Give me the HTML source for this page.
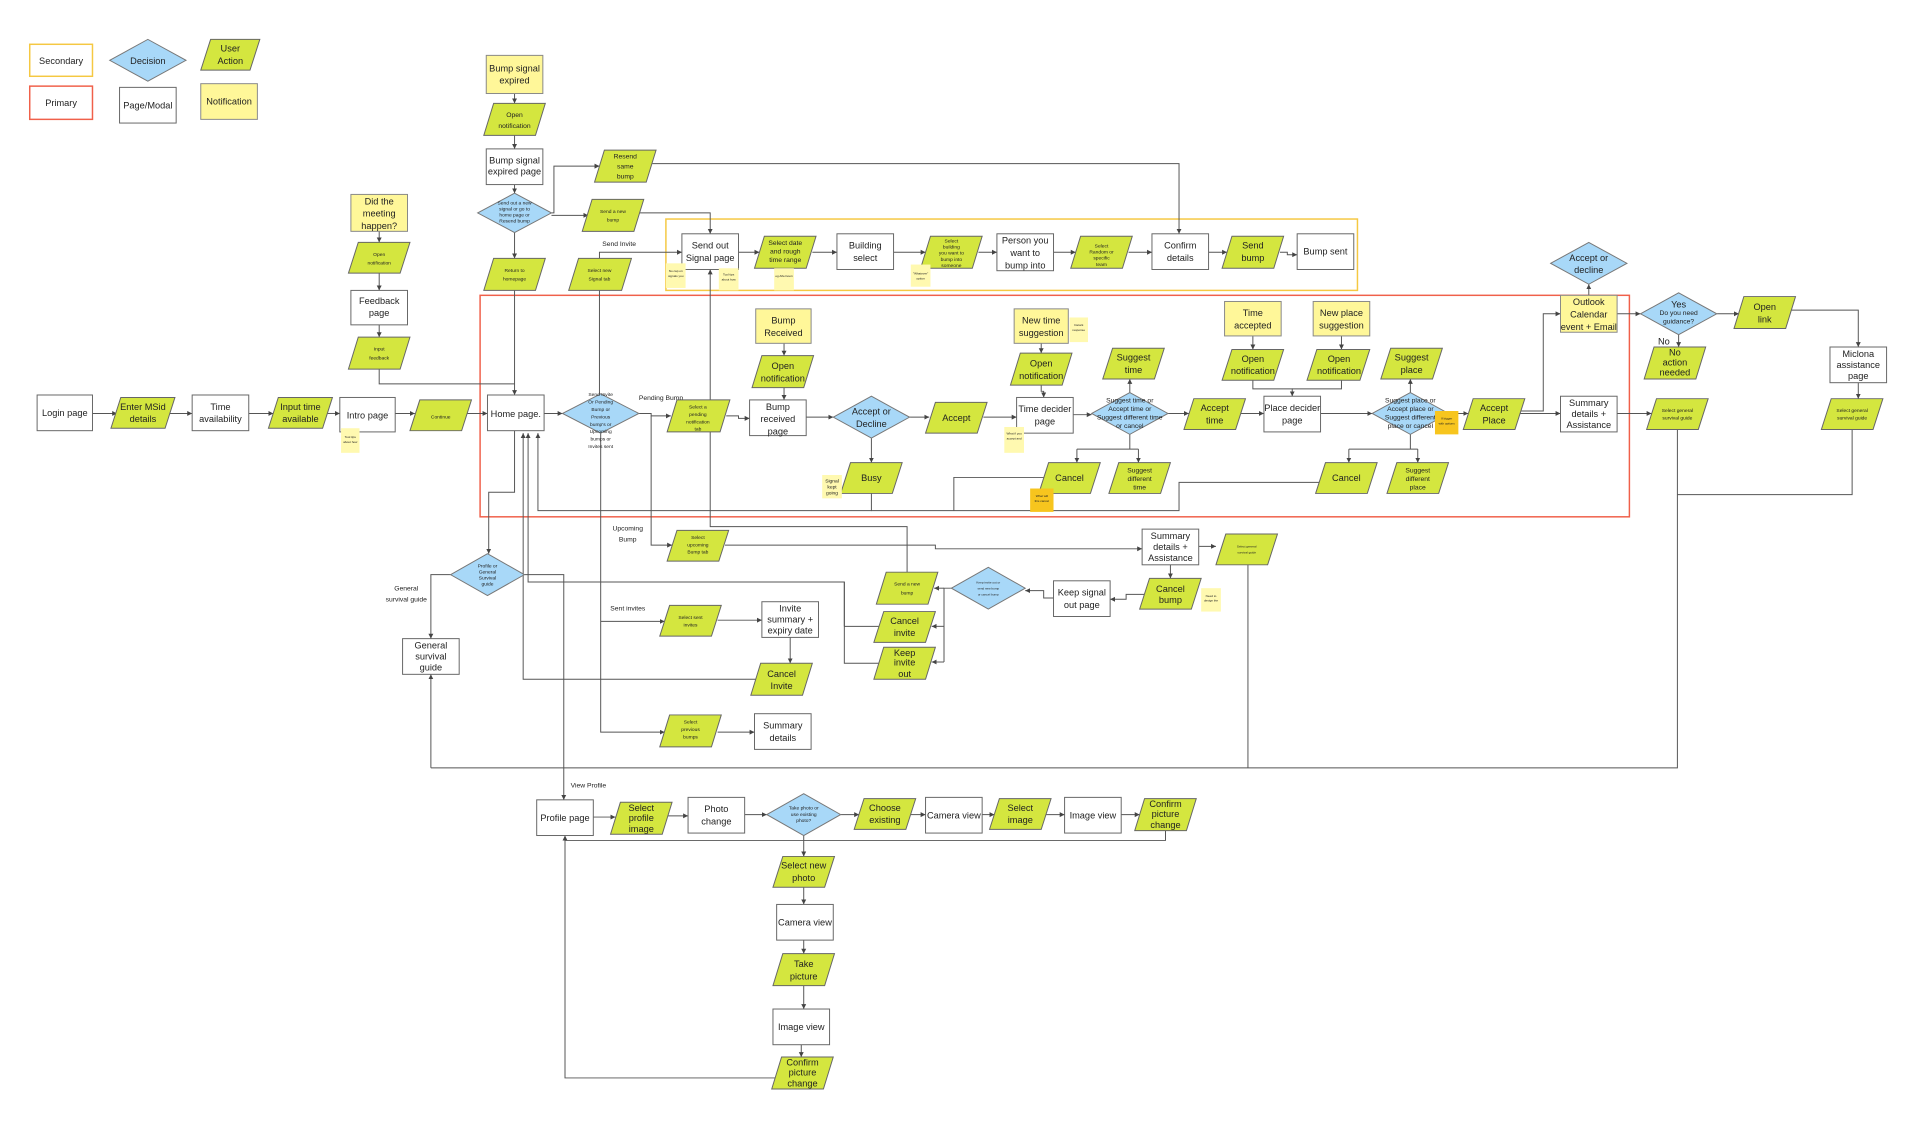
<!DOCTYPE html>
<html><head><meta charset="utf-8"><style>
html,body{margin:0;padding:0;background:#fff}
svg{display:block}
text{font-family:"Liberation Sans",sans-serif;fill:#222;text-anchor:middle}
.r{fill:#fff;stroke:#666;stroke-width:0.8}
.n{fill:#fff799;stroke:#888;stroke-width:0.8}
.p{fill:#d4e63f;stroke:#666;stroke-width:0.8}
.d{fill:#a8d8f8;stroke:#777;stroke-width:0.8}
.s{fill:#fff9b0;stroke:none}
.o{fill:#f7c51e;stroke:none}
.l{fill:none;stroke:#555;stroke-width:0.8}
.la{fill:none;stroke:#555;stroke-width:0.8;marker-end:url(#a)}
.t8{font-size:7.5px}.t6{font-size:5.5px}.t4{font-size:4px}.t3{font-size:2.5px}
</style></head><body>
<svg width="1920" height="1137" viewBox="0 0 1560 924" xmlns="http://www.w3.org/2000/svg">
<defs><marker id="a" markerWidth="5" markerHeight="5" refX="4" refY="2.5" orient="auto" markerUnits="userSpaceOnUse"><path d="M0,0.5 L4,2.5 L0,4.5z" fill="#444"/></marker></defs>

<!-- Legend -->
<rect x="24" y="36" width="51" height="26" fill="#fff" stroke="#f5c842" stroke-width="1.2"/><text x="49.5" y="52" class="t8">Secondary</text>
<polygon class="d" points="89,49 120,32 151,49 120,66"/><text x="120" y="52" class="t8">Decision</text>
<polygon class="p" points="171,32 211,32 203,57 163,57"/><text x="187" y="42" class="t8">User</text><text x="187" y="52" class="t8">Action</text>
<rect x="24" y="70" width="51" height="27" fill="#fff" stroke="#f0604a" stroke-width="1.2"/><text x="49.5" y="86" class="t8">Primary</text>
<rect class="r" x="97" y="71" width="46" height="29"/><text x="120" y="88" class="t8">Page/Modal</text>
<rect class="n" x="163" y="68" width="46" height="29"/><text x="186" y="85" class="t8">Notification</text>

<!-- group boxes -->
<rect x="541" y="178" width="562" height="58" fill="none" stroke="#f5c842" stroke-width="1.2"/>
<rect x="390" y="240" width="934" height="180" fill="none" stroke="#f0604a" stroke-width="1.2"/>

<!-- connectors -->
<path class="la" d="M75,336 H95"/><path class="la" d="M138,336 H156"/><path class="la" d="M202,336 H222"/><path class="la" d="M266,336 H276"/><path class="la" d="M321,336 H337"/><path class="la" d="M379,336 H396"/><path class="la" d="M442,336 H457"/>
<path class="la" d="M519,336 H529 V338 H545"/><path class="la" d="M590,338 H600 V340 H609"/><path class="la" d="M655,339 H677"/><path class="la" d="M739,339 H755"/><path class="la" d="M799,339 H826"/><path class="la" d="M872,337 H887"/><path class="la" d="M949,336 H966"/><path class="la" d="M1008,336 H1027"/><path class="la" d="M1073,336 H1115"/><path class="la" d="M1177,336 H1193"/><path class="la" d="M1235,336 H1268"/><path class="la" d="M1314,336 H1342"/>
<path class="la" d="M1236,334 H1254 V255 H1268"/><path class="la" d="M1291,240 V231"/><path class="la" d="M1314,255 H1333"/><path class="la" d="M1395,255 H1413"/><path class="la" d="M1455,252 H1510 V282"/><path class="la" d="M1510,311 V324"/><path class="la" d="M1364,272 V282"/>
<path class="l" d="M1505,349 V402 H1363"/><path class="l" d="M1363,349 V624 H350"/><path class="la" d="M350,624 V548"/><path class="l" d="M1014,459 V624"/>
<path class="la" d="M418,76 V84"/><path class="la" d="M418,110 V121"/><path class="la" d="M418,150 V157"/><path class="la" d="M418,189 V210"/><path class="la" d="M418,236 V321"/>
<path class="la" d="M448,173 H450 V135 H487"/><path class="la" d="M448,175 H478"/><path class="la" d="M530,133 H958 V190"/><path class="la" d="M520,173 H577 V190"/>
<path class="la" d="M487,210 V205 H554"/><path class="l" d="M487,236 V320"/><path class="la" d="M488,352 V595 H540"/><path class="la" d="M488,505 H540"/><path class="la" d="M583,504 H619"/><path class="la" d="M583,595 H613"/><path class="la" d="M642,518 V539"/>
<path class="la" d="M600,205 H617"/><path class="la" d="M660,205 H680"/><path class="la" d="M726,205 H752"/><path class="la" d="M795,205 H810"/><path class="la" d="M856,205 H874"/><path class="la" d="M917,205 H936"/><path class="la" d="M982,205 H997"/><path class="la" d="M1040,205 H1046 V207 H1054"/>
<path class="la" d="M308,188 V197"/><path class="la" d="M308,222 V236"/><path class="la" d="M308,264 V274"/><path class="l" d="M308,300 V312 H418"/>
<path class="la" d="M418,350 V400 H397 V450"/><path class="la" d="M366,467 H350 V519"/><path class="la" d="M426,467 H458 V650"/>
<path class="la" d="M708,401 V415 H437 V352"/><path class="l" d="M708,415 H958 V392 H1073"/><path class="l" d="M775,415 V388 H850"/>
<path class="la" d="M737,465 V428 H577 V219"/><path class="la" d="M686,509 V473 H429 V352"/><path class="l" d="M686,509 H714 M686,473 V539 H714"/><path class="la" d="M614,552 H425 V352"/>
<path class="la" d="M529,338 V443 H546"/><path class="la" d="M589,443 H760 V446 H928"/><path class="la" d="M974,444 H988"/>
<path class="la" d="M951,459 V470"/><path class="la" d="M930,483 H915 V487 H902"/><path class="la" d="M856,486 H848 V480 H833"/><path class="l" d="M773,478 H767 V538"/><path class="la" d="M767,478 H759"/><path class="la" d="M767,509 H757"/><path class="la" d="M767,538 H757"/>
<path class="la" d="M708,356 V376"/><path class="la" d="M918,319 V308"/><path class="l" d="M918,353 V365 H875 M918,365 H925"/><path class="la" d="M875,365 V376"/><path class="la" d="M925,365 V376"/>
<path class="la" d="M1146,319 V308"/><path class="l" d="M1146,353 V365 H1096 M1146,365 H1152"/><path class="la" d="M1096,365 V376"/><path class="la" d="M1152,365 V376"/>
<path class="la" d="M846,279 V287"/><path class="la" d="M846,313 V318 H848 V323"/><path class="la" d="M1018,273 V284"/><path class="la" d="M1018,309 V316 H1050 V322"/><path class="l" d="M1090,309 V316 H1050"/><path class="la" d="M1090,273 V284"/><path class="la" d="M637,279 V289"/><path class="la" d="M637,315 V325"/>
<path class="la" d="M482,664 H500"/><path class="la" d="M542,663 H559"/><path class="la" d="M605,662 H623"/><path class="la" d="M683,662 H698"/><path class="la" d="M740,662 H752"/><path class="la" d="M798,662 H808"/><path class="la" d="M850,662 H865"/><path class="la" d="M911,662 H926"/><path class="la" d="M947,675 V683 H459 V679"/>
<path class="la" d="M653,679 V696"/><path class="la" d="M653,721 V735"/><path class="la" d="M653,764 V775"/><path class="la" d="M653,801 V820"/><path class="la" d="M651,849 V859"/><path class="l" d="M631,876 H459 V683"/>

<!-- nodes top column -->
<rect class="n" x="395" y="45" width="46" height="31"/><text x="418" y="58" class="t8">Bump signal</text><text x="418" y="68" class="t8">expired</text>
<polygon class="p" points="401,84 443,84 435,110 393,110"/><text x="418" y="95" class="t6">Open</text><text x="418" y="104" class="t6">notification</text>
<rect class="r" x="395" y="121" width="46" height="29"/><text x="418" y="133" class="t8">Bump signal</text><text x="418" y="142" class="t8">expired page</text>
<polygon class="d" points="388,173 418,157 448,173 418,189"/><text class="t4"><tspan x="418" y="166">Send out a new</tspan><tspan x="418" y="171">signal or go to</tspan><tspan x="418" y="176">home page or</tspan><tspan x="418" y="181">Resend bump</tspan></text>
<polygon class="p" points="401,210 443,210 435,236 393,236"/><text x="418" y="221" class="t4">Return to</text><text x="418" y="228" class="t4">homepage</text>
<polygon class="p" points="491,122 533,122 525,148 483,148"/><text class="t6"><tspan x="508" y="129">Resend</tspan><tspan x="508" y="137">same</tspan><tspan x="508" y="145">bump</tspan></text>
<polygon class="p" points="481,162 523,162 515,188 473,188"/><text x="498" y="173" class="t4">Send a new</text><text x="498" y="180" class="t4">bump</text>
<polygon class="p" points="470,210 513,210 505,236 462,236"/><text x="487" y="221" class="t4">Select new</text><text x="487" y="228" class="t4">Signal tab</text>
<text x="503" y="200" class="t6">Send Invite</text>

<!-- feedback -->
<rect class="n" x="285" y="158" width="46" height="30"/><text class="t8"><tspan x="308" y="166">Did the</tspan><tspan x="308" y="176">meeting</tspan><tspan x="308" y="186">happen?</tspan></text>
<polygon class="p" points="291,197 333,197 325,222 283,222"/><text x="308" y="208" class="t4">Open</text><text x="308" y="215" class="t4">notification</text>
<rect class="r" x="285" y="236" width="46" height="28"/><text x="308" y="247" class="t8">Feedback</text><text x="308" y="257" class="t8">page</text>
<polygon class="p" points="291,274 333,274 325,300 283,300"/><text x="308" y="285" class="t4">Input</text><text x="308" y="292" class="t4">feedback</text>

<!-- main row -->
<rect class="r" x="30" y="321" width="45" height="29"/><text x="52.5" y="338" class="t8">Login page</text>
<polygon class="p" points="98,323 142,323 134,348 90,348"/><text x="116" y="333" class="t8">Enter MSid</text><text x="116" y="343" class="t8">details</text>
<rect class="r" x="156" y="321" width="46" height="29"/><text x="179" y="333" class="t8">Time</text><text x="179" y="343" class="t8">availability</text>
<polygon class="p" points="226,323 270,323 262,348 218,348"/><text x="244" y="333" class="t8">Input time</text><text x="244" y="343" class="t8">available</text>
<rect class="r" x="276" y="323" width="45" height="28"/><text x="298.5" y="340" class="t8">Intro page</text>
<rect class="s" x="277" y="348" width="15" height="20"/><text x="284.5" y="356" class="t3">Tool tips</text><text x="284.5" y="360" class="t3">about how</text>
<polygon class="p" points="341,325 383,325 375,350 333,350"/><text x="358" y="340" class="t4">Continue</text>
<rect class="r" x="396" y="321" width="46" height="29"/><text x="419" y="339" class="t8">Home page.</text>
<polygon class="d" points="457,336 488,320 519,336 488,352"/><text class="t4"><tspan x="488" y="322">Send Invite</tspan><tspan x="488" y="328">Or Pending</tspan><tspan x="488" y="334">Bump or</tspan><tspan x="488" y="340">Previous</tspan><tspan x="488" y="346">bump's or</tspan><tspan x="488" y="352">Upcoming</tspan><tspan x="488" y="358">bumps or</tspan><tspan x="488" y="364">Invites sent</tspan></text>
<text x="537" y="325" class="t6">Pending Bump</text>
<polygon class="p" points="550,325 593,325 585,351 542,351"/><text class="t4"><tspan x="567" y="332">Select a</tspan><tspan x="567" y="338">pending</tspan><tspan x="567" y="344">notification</tspan><tspan x="567" y="350">tab</tspan></text>
<rect class="r" x="609" y="325" width="46" height="29"/><text class="t8"><tspan x="632" y="333">Bump</tspan><tspan x="632" y="343">received</tspan><tspan x="632" y="353">page</tspan></text>
<rect class="n" x="614" y="251" width="45" height="28"/><text x="636.5" y="263" class="t8">Bump</text><text x="636.5" y="273" class="t8">Received</text>
<polygon class="p" points="619,289 661,289 653,315 611,315"/><text x="636" y="300" class="t8">Open</text><text x="636" y="310" class="t8">notification</text>
<polygon class="d" points="677,339 708,322 739,339 708,356"/><text x="708" y="337" class="t8">Accept or</text><text x="708" y="347" class="t8">Decline</text>
<polygon class="p" points="760,327 802,327 794,352 752,352"/><text x="777" y="342" class="t8">Accept</text>
<polygon class="p" points="691,376 733,376 725,401 683,401"/><text x="708" y="391" class="t8">Busy</text>
<rect class="s" x="668" y="386" width="16" height="19"/><text class="t4"><tspan x="676" y="392">Signal</tspan><tspan x="676" y="397">kept</tspan><tspan x="676" y="402">going</tspan></text>
<rect class="r" x="826" y="323" width="46" height="29"/><text x="849" y="335" class="t8">Time decider</text><text x="849" y="345" class="t8">page</text>
<rect class="s" x="816" y="347" width="16" height="21"/><text x="824" y="353" class="t3">What if you</text><text x="824" y="357" class="t3">accept and</text>
<rect class="n" x="824" y="251" width="44" height="28"/><text x="846" y="263" class="t8">New time</text><text x="846" y="273" class="t8">suggestion</text>
<rect class="s" x="869" y="258" width="15" height="20"/><text x="876.5" y="265" class="t3">Instant</text><text x="876.5" y="269" class="t3">response</text>
<polygon class="p" points="829,287 871,287 863,313 821,313"/><text x="846" y="298" class="t8">Open</text><text x="846" y="308" class="t8">notification</text>
<polygon class="d" points="887,336 918,319 949,336 918,353"/><text class="t6"><tspan x="918" y="327">Suggest time or</tspan><tspan x="918" y="334">Accept time or</tspan><tspan x="918" y="341">Suggest different time</tspan><tspan x="918" y="348">or cancel</tspan></text>
<polygon class="p" points="904,283 946,283 938,308 896,308"/><text x="921" y="293" class="t8">Suggest</text><text x="921" y="303" class="t8">time</text>
<polygon class="p" points="852,376 894,376 886,401 844,401"/><text x="869" y="391" class="t8">Cancel</text>
<rect class="o" x="837" y="397" width="19" height="19"/><text x="846.5" y="404" class="t3">What will</text><text x="846.5" y="408" class="t3">this cancel</text>
<polygon class="p" points="909,376 951,376 943,401 901,401"/><text class="t6"><tspan x="926" y="384">Suggest</tspan><tspan x="926" y="391">different</tspan><tspan x="926" y="398">time</tspan></text>
<polygon class="p" points="970,324 1012,324 1004,349 962,349"/><text x="987" y="334" class="t8">Accept</text><text x="987" y="344" class="t8">time</text>
<rect class="r" x="1027" y="322" width="46" height="29"/><text x="1050" y="334" class="t8">Place decider</text><text x="1050" y="344" class="t8">page</text>
<rect class="n" x="995" y="245" width="46" height="28"/><text x="1018" y="257" class="t8">Time</text><text x="1018" y="267" class="t8">accepted</text>
<polygon class="p" points="1001,284 1043,284 1035,309 993,309"/><text x="1018" y="294" class="t8">Open</text><text x="1018" y="304" class="t8">notification</text>
<rect class="n" x="1067" y="245" width="46" height="28"/><text x="1090" y="257" class="t8">New place</text><text x="1090" y="267" class="t8">suggestion</text>
<polygon class="p" points="1070,284 1113,284 1105,309 1062,309"/><text x="1088" y="294" class="t8">Open</text><text x="1088" y="304" class="t8">notification</text>
<polygon class="d" points="1115,336 1146,319 1177,336 1146,353"/><text class="t6"><tspan x="1146" y="327">Suggest place or</tspan><tspan x="1146" y="334">Accept place or</tspan><tspan x="1146" y="341">Suggest different</tspan><tspan x="1146" y="348">place or cancel</tspan></text>
<rect class="o" x="1166" y="334" width="19" height="19"/><text x="1175.5" y="341" class="t3">If bigger</text><text x="1175.5" y="345" class="t3">with options</text>
<polygon class="p" points="1130,283 1172,283 1164,308 1122,308"/><text x="1147" y="293" class="t8">Suggest</text><text x="1147" y="303" class="t8">place</text>
<polygon class="p" points="1077,376 1119,376 1111,401 1069,401"/><text x="1094" y="391" class="t8">Cancel</text>
<polygon class="p" points="1135,376 1177,376 1169,401 1127,401"/><text class="t6"><tspan x="1152" y="384">Suggest</tspan><tspan x="1152" y="391">different</tspan><tspan x="1152" y="398">place</tspan></text>
<polygon class="p" points="1197,324 1239,324 1231,349 1189,349"/><text x="1214" y="334" class="t8">Accept</text><text x="1214" y="344" class="t8">Place</text>
<rect class="r" x="1268" y="322" width="46" height="29"/><text class="t8"><tspan x="1291" y="330">Summary</tspan><tspan x="1291" y="339">details +</tspan><tspan x="1291" y="348">Assistance</tspan></text>
<rect class="n" x="1268" y="240" width="46" height="30"/><text class="t8"><tspan x="1291" y="248">Outlook</tspan><tspan x="1291" y="258">Calendar</tspan><tspan x="1291" y="268">event + Email</tspan></text>
<polygon class="d" points="1260,214 1291,197 1322,214 1291,231"/><text x="1291" y="212" class="t8">Accept or</text><text x="1291" y="222" class="t8">decline</text>
<polygon class="d" points="1333,255 1364,238 1395,255 1364,272"/><text x="1364" y="250" class="t8">Yes</text><text x="1364" y="256" class="t6">Do you need</text><text x="1364" y="263" class="t6">guidance?</text>
<text x="1352" y="280" class="t8">No</text>
<polygon class="p" points="1344,282 1386,282 1378,308 1336,308"/><text class="t8"><tspan x="1361" y="289">No</tspan><tspan x="1361" y="297">action</tspan><tspan x="1361" y="305">needed</tspan></text>
<polygon class="p" points="1417,241 1459,241 1451,267 1409,267"/><text x="1434" y="252" class="t8">Open</text><text x="1434" y="262" class="t8">link</text>
<rect class="r" x="1487" y="282" width="46" height="29"/><text class="t8"><tspan x="1510" y="290">Miclona</tspan><tspan x="1510" y="299">assistance</tspan><tspan x="1510" y="308">page</tspan></text>
<polygon class="p" points="1346,324 1388,324 1380,349 1338,349"/><text x="1363" y="335" class="t4">Select general</text><text x="1363" y="341" class="t4">survival guide</text>
<polygon class="p" points="1488,324 1530,324 1522,349 1480,349"/><text x="1505" y="335" class="t4">Select general</text><text x="1505" y="341" class="t4">survival guide</text>

<!-- secondary row -->
<rect class="r" x="554" y="190" width="46" height="29"/><text x="577" y="202" class="t8">Send out</text><text x="577" y="212" class="t8">Signal page</text>
<rect class="s" x="541" y="214" width="16" height="20"/><text x="549" y="221" class="t3">No cap on</text><text x="549" y="225" class="t3">signals you</text>
<rect class="s" x="584" y="218" width="16" height="18"/><text x="592" y="224" class="t3">Tool tips</text><text x="592" y="228" class="t3">about how</text>
<polygon class="p" points="621,192 663,192 655,218 613,218"/><text class="t6"><tspan x="638" y="199">Select date</tspan><tspan x="638" y="206">and rough</tspan><tspan x="638" y="213">time range</tspan></text>
<rect class="s" x="629" y="218" width="16" height="18"/><text x="637" y="225" class="t3">eg Afternoon</text>
<rect class="r" x="680" y="190" width="46" height="29"/><text x="703" y="202" class="t8">Building</text><text x="703" y="212" class="t8">select</text>
<polygon class="p" points="756,192 798,192 790,218 748,218"/><text class="t4"><tspan x="773" y="197">Select</tspan><tspan x="773" y="202">building</tspan><tspan x="773" y="207">you want to</tspan><tspan x="773" y="212">bump into</tspan><tspan x="773" y="217">someone</tspan></text>
<rect class="s" x="740" y="215" width="16" height="18"/><text x="748" y="223" class="t3">"Whatever"</text><text x="748" y="227" class="t3">option</text>
<rect class="r" x="810" y="190" width="46" height="30"/><text class="t8"><tspan x="833" y="198">Person you</tspan><tspan x="833" y="208">want to</tspan><tspan x="833" y="218">bump into</tspan></text>
<polygon class="p" points="878,192 920,192 912,218 870,218"/><text class="t4"><tspan x="895" y="201">Select</tspan><tspan x="895" y="206">Random or</tspan><tspan x="895" y="211">specific</tspan><tspan x="895" y="216">team</tspan></text>
<rect class="r" x="936" y="190" width="46" height="29"/><text x="959" y="202" class="t8">Confirm</text><text x="959" y="212" class="t8">details</text>
<polygon class="p" points="1001,192 1043,192 1035,218 993,218"/><text x="1018" y="202" class="t8">Send</text><text x="1018" y="212" class="t8">bump</text>
<rect class="r" x="1054" y="190" width="46" height="29"/><text x="1077" y="207" class="t8">Bump sent</text>

<!-- lower -->
<text x="510" y="431" class="t6">Upcoming</text><text x="510" y="440" class="t6">Bump</text>
<polygon class="p" points="550,431 592,431 584,456 542,456"/><text class="t4"><tspan x="567" y="438">Select</tspan><tspan x="567" y="444">upcoming</tspan><tspan x="567" y="450">Bump tab</tspan></text>
<rect class="r" x="928" y="430" width="46" height="29"/><text class="t8"><tspan x="951" y="438">Summary</tspan><tspan x="951" y="447">details +</tspan><tspan x="951" y="456">Assistance</tspan></text>
<polygon class="p" points="996,434 1038,434 1030,459 988,459"/><text x="1013" y="445" class="t3">Select general</text><text x="1013" y="450" class="t3">survival guide</text>
<polygon class="p" points="934,470 976,470 968,495 926,495"/><text x="951" y="481" class="t8">Cancel</text><text x="951" y="490" class="t8">bump</text>
<rect class="s" x="976" y="478" width="16" height="19"/><text x="984" y="485" class="t3">Need to</text><text x="984" y="489" class="t3">design the</text>
<rect class="r" x="856" y="472" width="46" height="29"/><text x="879" y="484" class="t8">Keep signal</text><text x="879" y="494" class="t8">out page</text>
<polygon class="d" points="773,478 803,461 833,478 803,495"/><text class="t3"><tspan x="803" y="474">Keep invite out or</tspan><tspan x="803" y="479">send new bump</tspan><tspan x="803" y="484">or cancel bump</tspan></text>
<polygon class="p" points="720,465 762,465 754,491 712,491"/><text x="737" y="476" class="t4">Send a new</text><text x="737" y="483" class="t4">bump</text>
<polygon class="p" points="718,497 760,497 752,522 710,522"/><text x="735" y="507" class="t8">Cancel</text><text x="735" y="517" class="t8">invite</text>
<polygon class="p" points="718,526 760,526 752,552 710,552"/><text class="t8"><tspan x="735" y="533">Keep</tspan><tspan x="735" y="541">invite</tspan><tspan x="735" y="550">out</tspan></text>
<polygon class="d" points="366,467 396,450 426,467 396,484"/><text class="t4"><tspan x="396" y="461">Profile or</tspan><tspan x="396" y="466">General</tspan><tspan x="396" y="471">Survival</tspan><tspan x="396" y="476">guide</tspan></text>
<text x="330" y="480" class="t6">General</text><text x="330" y="489" class="t6">survival guide</text>
<rect class="r" x="327" y="519" width="46" height="29"/><text class="t8"><tspan x="350" y="527">General</tspan><tspan x="350" y="536">survival</tspan><tspan x="350" y="545">guide</tspan></text>
<text x="510" y="496" class="t6">Sent invites</text>
<polygon class="p" points="544,492 586,492 578,517 536,517"/><text x="561" y="503" class="t4">Select sent</text><text x="561" y="509" class="t4">invites</text>
<rect class="r" x="619" y="489" width="46" height="29"/><text class="t8"><tspan x="642" y="497">Invite</tspan><tspan x="642" y="506">summary +</tspan><tspan x="642" y="515">expiry date</tspan></text>
<polygon class="p" points="618,539 660,539 652,565 610,565"/><text x="635" y="550" class="t8">Cancel</text><text x="635" y="560" class="t8">Invite</text>
<polygon class="p" points="544,581 586,581 578,607 536,607"/><text class="t4"><tspan x="561" y="588">Select</tspan><tspan x="561" y="594">previous</tspan><tspan x="561" y="600">bumps</tspan></text>
<rect class="r" x="613" y="580" width="46" height="29"/><text x="636" y="592" class="t8">Summary</text><text x="636" y="602" class="t8">details</text>
<text x="478" y="640" class="t6">View Profile</text>

<!-- profile -->
<rect class="r" x="436" y="650" width="46" height="29"/><text x="459" y="667" class="t8">Profile page</text>
<polygon class="p" points="504,652 546,652 538,678 496,678"/><text class="t8"><tspan x="521" y="659">Select</tspan><tspan x="521" y="667">profile</tspan><tspan x="521" y="676">image</tspan></text>
<rect class="r" x="559" y="648" width="46" height="29"/><text x="582" y="660" class="t8">Photo</text><text x="582" y="670" class="t8">change</text>
<polygon class="d" points="623,662 653,645 683,662 653,679"/><text class="t4"><tspan x="653" y="658">Take photo or</tspan><tspan x="653" y="663">use existing</tspan><tspan x="653" y="668">photo?</tspan></text>
<polygon class="p" points="702,649 744,649 736,674 694,674"/><text x="719" y="659" class="t8">Choose</text><text x="719" y="669" class="t8">existing</text>
<rect class="r" x="752" y="648" width="46" height="29"/><text x="775" y="665" class="t8">Camera view</text>
<polygon class="p" points="812,649 854,649 846,674 804,674"/><text x="829" y="659" class="t8">Select</text><text x="829" y="669" class="t8">image</text>
<rect class="r" x="865" y="648" width="46" height="29"/><text x="888" y="665" class="t8">Image view</text>
<polygon class="p" points="930,649 972,649 964,675 922,675"/><text class="t8"><tspan x="947" y="656">Confirm</tspan><tspan x="947" y="664">picture</tspan><tspan x="947" y="673">change</tspan></text>
<polygon class="p" points="636,696 678,696 670,721 628,721"/><text x="653" y="706" class="t8">Select new</text><text x="653" y="716" class="t8">photo</text>
<rect class="r" x="631" y="735" width="46" height="29"/><text x="654" y="752" class="t8">Camera view</text>
<polygon class="p" points="636,775 678,775 670,801 628,801"/><text x="653" y="786" class="t8">Take</text><text x="653" y="796" class="t8">picture</text>
<rect class="r" x="628" y="820" width="46" height="29"/><text x="651" y="837" class="t8">Image view</text>
<polygon class="p" points="635,859 677,859 669,885 627,885"/><text class="t8"><tspan x="652" y="866">Confirm</tspan><tspan x="652" y="874">picture</tspan><tspan x="652" y="883">change</tspan></text>
</svg>
</body></html>
